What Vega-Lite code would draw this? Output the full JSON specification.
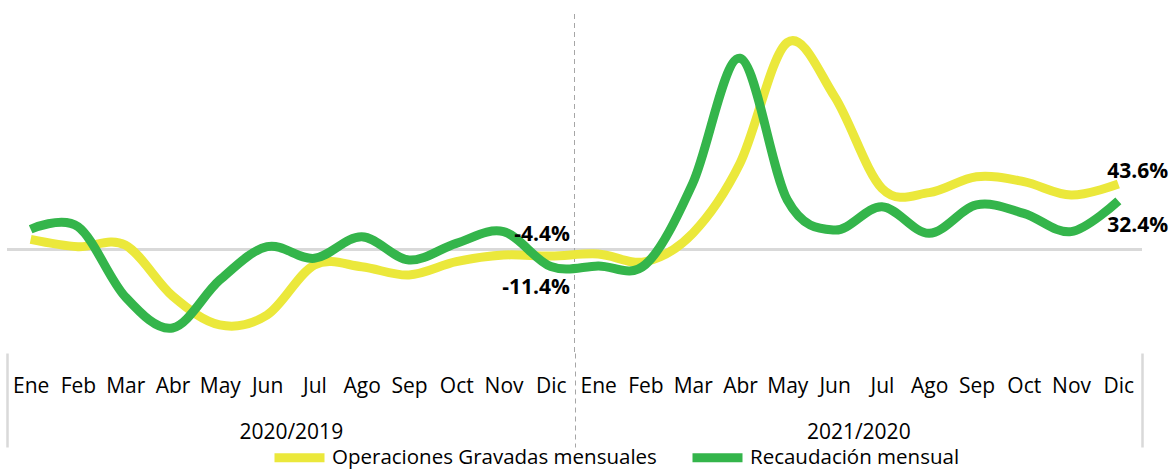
{
  "$schema": "https://vega.github.io/schema/vega-lite/v6.json",
  "width": 1135,
  "height": 339,
  "autosize": {"type": "none"},
  "padding": {"left": 7, "top": 14, "right": 28, "bottom": 117},
  "background": "white",
  "config": {"view": {"stroke": null}, "font": "Open Sans"},
  "data": {
    "values": [
      {"m": 0, "s": "Operaciones Gravadas mensuales", "v": 6.8},
      {"m": 1, "s": "Operaciones Gravadas mensuales", "v": 1.9},
      {"m": 2, "s": "Operaciones Gravadas mensuales", "v": 3.0},
      {"m": 3, "s": "Operaciones Gravadas mensuales", "v": -31.0},
      {"m": 4, "s": "Operaciones Gravadas mensuales", "v": -50.3},
      {"m": 5, "s": "Operaciones Gravadas mensuales", "v": -43.7},
      {"m": 6, "s": "Operaciones Gravadas mensuales", "v": -10.3},
      {"m": 7, "s": "Operaciones Gravadas mensuales", "v": -11.5},
      {"m": 8, "s": "Operaciones Gravadas mensuales", "v": -17.0},
      {"m": 9, "s": "Operaciones Gravadas mensuales", "v": -8.1},
      {"m": 10, "s": "Operaciones Gravadas mensuales", "v": -3.7},
      {"m": 11, "s": "Operaciones Gravadas mensuales", "v": -4.4, "lab": "-4.4%"},
      {"m": 12, "s": "Operaciones Gravadas mensuales", "v": -3.0},
      {"m": 13, "s": "Operaciones Gravadas mensuales", "v": -8.1},
      {"m": 14, "s": "Operaciones Gravadas mensuales", "v": 10.8},
      {"m": 15, "s": "Operaciones Gravadas mensuales", "v": 57.5},
      {"m": 16, "s": "Operaciones Gravadas mensuales", "v": 138.0},
      {"m": 17, "s": "Operaciones Gravadas mensuales", "v": 101.9},
      {"m": 18, "s": "Operaciones Gravadas mensuales", "v": 40.8},
      {"m": 19, "s": "Operaciones Gravadas mensuales", "v": 37.9},
      {"m": 20, "s": "Operaciones Gravadas mensuales", "v": 48.5},
      {"m": 21, "s": "Operaciones Gravadas mensuales", "v": 45.2},
      {"m": 22, "s": "Operaciones Gravadas mensuales", "v": 36.3},
      {"m": 23, "s": "Operaciones Gravadas mensuales", "v": 43.6, "lab": "43.6%"},
      {"m": 0, "s": "Recaudación mensual", "v": 13.5},
      {"m": 1, "s": "Recaudación mensual", "v": 15.2},
      {"m": 2, "s": "Recaudación mensual", "v": -31.5},
      {"m": 3, "s": "Recaudación mensual", "v": -52.3},
      {"m": 4, "s": "Recaudación mensual", "v": -20.3},
      {"m": 5, "s": "Recaudación mensual", "v": 1.9},
      {"m": 6, "s": "Recaudación mensual", "v": -5.9},
      {"m": 7, "s": "Recaudación mensual", "v": 8.5},
      {"m": 8, "s": "Recaudación mensual", "v": -7.0},
      {"m": 9, "s": "Recaudación mensual", "v": 4.1},
      {"m": 10, "s": "Recaudación mensual", "v": 11.9},
      {"m": 11, "s": "Recaudación mensual", "v": -11.4, "lab": "-11.4%"},
      {"m": 12, "s": "Recaudación mensual", "v": -11.0},
      {"m": 13, "s": "Recaudación mensual", "v": -10.0},
      {"m": 14, "s": "Recaudación mensual", "v": 44.1},
      {"m": 15, "s": "Recaudación mensual", "v": 127.5},
      {"m": 16, "s": "Recaudación mensual", "v": 33.0},
      {"m": 17, "s": "Recaudación mensual", "v": 13.0},
      {"m": 18, "s": "Recaudación mensual", "v": 28.5},
      {"m": 19, "s": "Recaudación mensual", "v": 10.8},
      {"m": 20, "s": "Recaudación mensual", "v": 29.7},
      {"m": 21, "s": "Recaudación mensual", "v": 24.1},
      {"m": 22, "s": "Recaudación mensual", "v": 11.9},
      {"m": 23, "s": "Recaudación mensual", "v": 32.4, "lab": "32.4%"}
    ]
  },
  "layer": [
    {
      "mark": {"type": "rule", "color": "#d9d9d9", "strokeWidth": 2.5},
      "encoding": {
        "y": {"datum": 0, "type": "quantitative", "scale": {"domain": [-69, 157], "nice": false, "zero": false}, "axis": null}
      }
    },
    {
      "mark": {"type": "rule", "color": "#a6a6a6", "strokeWidth": 1, "strokeDash": [5, 4]},
      "encoding": {
        "x": {"datum": 11.5, "type": "quantitative", "scale": {"domain": [-0.5, 23.5], "nice": false, "zero": false}, "axis": null}
      }
    },
    {
      "mark": {"type": "line", "strokeWidth": 9, "interpolate": "cardinal", "tension": 0, "clip": false},
      "encoding": {
        "x": {
          "field": "m", "type": "quantitative",
          "scale": {"domain": [-0.5, 23.5], "nice": false, "zero": false},
          "axis": {
            "orient": "bottom", "title": null,
            "values": [0,1,2,3,4,5,6,7,8,9,10,11,12,13,14,15,16,17,18,19,20,21,22,23],
            "labelExpr": "['Ene','Feb','Mar','Abr','May','Jun','Jul','Ago','Sep','Oct','Nov','Dic'][datum.value % 12]",
            "domain": false, "ticks": false, "tickSize": 0, "grid": false,
            "labelPadding": 33, "labelBaseline": "middle", "labelFontSize": 21,
            "labelFont": "Open Sans", "labelColor": "#000000", "labelFlush": false, "labelOverlap": false
          }
        },
        "y": {"field": "v", "type": "quantitative", "scale": {"domain": [-69, 157], "nice": false, "zero": false}, "axis": null},
        "color": {
          "field": "s", "type": "nominal",
          "scale": {"domain": ["Operaciones Gravadas mensuales", "Recaudación mensual"], "range": ["#ebe83b", "#34b54b"]},
          "legend": {
            "orient": "none", "legendX": 263, "legendY": 414, "direction": "horizontal", "title": null,
            "symbolType": "stroke", "symbolStrokeWidth": 9, "symbolSize": 2500,
            "labelFontSize": 20.5, "labelFont": "Open Sans", "labelColor": "#000000",
            "labelOffset": 3, "columnPadding": 17, "padding": 0, "labelLimit": 500
          }
        }
      }
    },
    {
      "transform": [{"filter": "datum.lab == '-4.4%'"}],
      "mark": {"type": "text", "align": "right", "baseline": "middle", "dx": 19, "dy": -21, "fontSize": 21, "fontWeight": "bold", "font": "Open Sans", "color": "#000000"},
      "encoding": {
        "x": {
          "field": "m", "type": "quantitative", "scale": {"domain": [-0.5, 23.5], "nice": false, "zero": false},
          "axis": {
            "orient": "bottom", "title": null, "values": [5.5, 17.5],
            "labelExpr": "datum.value < 12 ? '2020/2019' : '2021/2020'",
            "domain": false, "ticks": false, "tickSize": 0, "grid": false,
            "labelPadding": 79, "labelBaseline": "middle", "labelFontSize": 21,
            "labelFont": "Open Sans", "labelColor": "#000000", "labelFlush": false, "labelOverlap": false
          }
        },
        "y": {"field": "v", "type": "quantitative", "scale": {"domain": [-69, 157], "nice": false, "zero": false}, "axis": null},
        "text": {"field": "lab"}
      }
    },
    {
      "transform": [{"filter": "datum.lab == '-11.4%'"}],
      "mark": {"type": "text", "align": "right", "baseline": "middle", "dx": 19, "dy": 21, "fontSize": 21, "fontWeight": "bold", "font": "Open Sans", "color": "#000000"},
      "encoding": {
        "x": {
          "field": "m", "type": "quantitative", "scale": {"domain": [-0.5, 23.5], "nice": false, "zero": false},
          "axis": {
            "orient": "bottom", "title": null, "values": [-0.5, 11.5, 23.5],
            "labels": false, "domain": false, "grid": false, "ticks": true, "tickSize": 94,
            "tickColor": {"condition": {"test": "datum.value == 11.5", "value": "#a6a6a6"}, "value": "#d9d9d9"},
            "tickWidth": {"condition": {"test": "datum.value == 11.5", "value": 1}, "value": 2.5},
            "tickDash": {"condition": {"test": "datum.value == 11.5", "value": [5, 4]}, "value": []}
          }
        },
        "y": {"field": "v", "type": "quantitative", "scale": {"domain": [-69, 157], "nice": false, "zero": false}, "axis": null},
        "text": {"field": "lab"}
      }
    },
    {
      "transform": [{"filter": "datum.lab == '43.6%'"}],
      "mark": {"type": "text", "align": "left", "baseline": "middle", "dx": -11, "dy": -12, "fontSize": 21, "fontWeight": "bold", "font": "Open Sans", "color": "#000000"},
      "encoding": {
        "x": {"field": "m", "type": "quantitative", "scale": {"domain": [-0.5, 23.5], "nice": false, "zero": false}, "axis": null},
        "y": {"field": "v", "type": "quantitative", "scale": {"domain": [-69, 157], "nice": false, "zero": false}, "axis": null},
        "text": {"field": "lab"}
      }
    },
    {
      "transform": [{"filter": "datum.lab == '32.4%'"}],
      "mark": {"type": "text", "align": "left", "baseline": "middle", "dx": -11, "dy": 25, "fontSize": 21, "fontWeight": "bold", "font": "Open Sans", "color": "#000000"},
      "encoding": {
        "x": {"field": "m", "type": "quantitative", "scale": {"domain": [-0.5, 23.5], "nice": false, "zero": false}, "axis": null},
        "y": {"field": "v", "type": "quantitative", "scale": {"domain": [-69, 157], "nice": false, "zero": false}, "axis": null},
        "text": {"field": "lab"}
      }
    }
  ],
  "resolve": {"axis": {"x": "independent"}}
}
